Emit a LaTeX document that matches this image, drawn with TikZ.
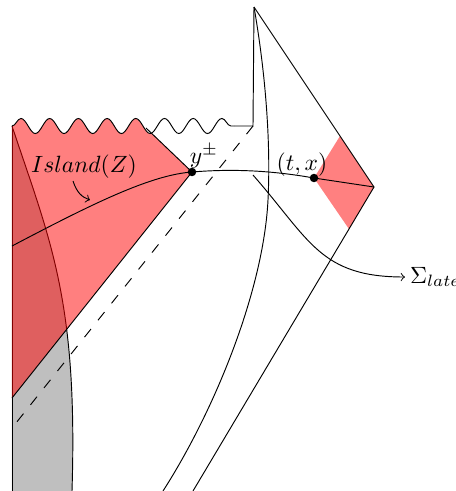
\documentclass[tikz,border=0pt]{standalone}
\usetikzlibrary{decorations.pathmorphing}
\begin{document}
\begin{tikzpicture}[x=0.425pt,y=-0.425pt,
  wavy/.style={decoration={snake,amplitude=3.2pt,segment length=12.2pt}},
  dotnode/.style={circle,fill=black,inner sep=0pt,minimum size=3.6pt},
  lbl/.style={inner sep=0pt},
  longdash/.style={dash pattern=on 4.4pt off 4.8pt}]
\useasboundingbox (0,0) rectangle (456,491);
% points
\coordinate (TL) at (12,126);
\coordinate (BL) at (12,491);
\coordinate (WE) at (235,126);
\coordinate (CO) at (253,126);
\coordinate (TOP) at (254,7);
\coordinate (R) at (374,187);
\coordinate (DT) at (340,136);
\coordinate (DB) at (349,229);
\coordinate (RB) at (193,491);
\coordinate (LR) at (12,398);
\coordinate (DE) at (12,428);
\coordinate (UE) at (146,128);
\coordinate (CS) at (12,246);
\coordinate (AS) at (253,175);
\coordinate (IA) at (73,181);
\coordinate (IB) at (90,200);
\coordinate (VM) at (268,200);
\coordinate (VB) at (163,491);
% gray region left of the timelike curve
\fill[gray!50] (TL) .. controls (50,240) and (78,300) .. (72,491) -- (BL) -- cycle;
\draw (TL) .. controls (50,240) and (78,300) .. (72,491);
\draw (TL) -- (BL);
% red entanglement wedge
\begin{scope}
  \clip (12,100) -- (117,100) -- (192,172) -- (LR) -- cycle;
  \fill[red,fill opacity=0.5,wavy] decorate {(TL) -- (WE)} -- (235,491) -- (BL) -- cycle;
\end{scope}
% diamond
\fill[red!50] (314,178) -- (DT) -- (R) -- (DB) -- cycle;
% singularity and boundaries
\draw[wavy,decorate] (TL) -- (WE);
\draw (WE) -- (CO) -- (TOP);
\draw (TOP) -- (R) -- (RB);
\draw[longdash] (CO) -- (DE);
\draw (TOP) .. controls (265,70) and (271,140) .. (VM) .. controls (263.5,290) and (215,410) .. (VB);
% dots
\node[dotnode] (yp) at (192,172) {};
\node[dotnode] (tx) at (314,178) {};
\draw (yp.center) -- (LR);
\draw (yp.center) -- (UE);
% Cauchy slice
\draw (CS) .. controls (90,205) and (150,175) .. (yp.center) .. controls (240,168) and (280,172) .. (tx.center) -- (R);
% labels
\node[lbl] (ypl) at (204,156) {$y^\pm$};
\node[lbl] (txl) at (302,165) {$(t,x)$};
\node[lbl] (isl) at (84,167) {$Island(Z)$};
\node[anchor=west,inner sep=2pt] (sig) at (405,277) {$\Sigma_{late}$};
\draw[->] (IA) .. controls (77,193) and (82,197) .. (IB);
\draw[->] (AS) .. controls (310,240) and (320,277) .. (sig.west);
\end{tikzpicture}
\end{document}
